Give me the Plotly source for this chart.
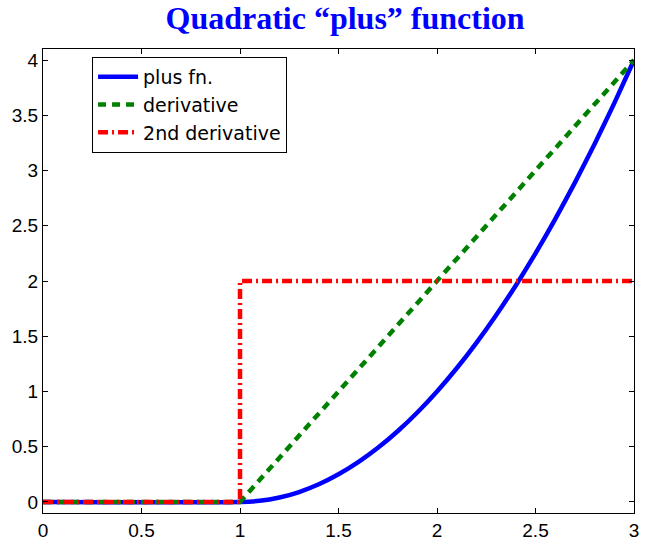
import plotly.graph_objects as go

# plus function samples
x_plus = [0, 1.0, 1.1, 1.2, 1.3, 1.4, 1.5, 1.6, 1.7, 1.8, 1.9, 2.0,
          2.1, 2.2, 2.3, 2.4, 2.5, 2.6, 2.7, 2.8, 2.9, 3.0]
y_plus = [0, 0.0, 0.01, 0.04, 0.09, 0.16, 0.25, 0.36, 0.49, 0.64, 0.81, 1.0,
          1.21, 1.44, 1.69, 1.96, 2.25, 2.56, 2.89, 3.24, 3.61, 4.0]

# derivative
x_deriv = [0, 1, 3]
y_deriv = [0, 0, 4]

# second derivative
x_deriv2 = [0, 1, 1, 3]
y_deriv2 = [0, 0, 2, 2]

series_names = ["plus fn.", "derivative", "2nd derivative"]
x_ticks = [0, 0.5, 1, 1.5, 2, 2.5, 3]
x_tick_labels = ["0", "0.5", "1", "1.5", "2", "2.5", "3"]
y_ticks = [0, 0.5, 1, 1.5, 2, 2.5, 3, 3.5, 4]
y_tick_labels = ["0", "0.5", "1", "1.5", "2", "2.5", "3", "3.5", "4"]

fig = go.Figure()
fig.add_trace(go.Scatter(x=x_plus, y=y_plus, mode="lines", name=series_names[0],
                         line=dict(color="#0000ff", width=4.5, shape="spline", smoothing=0.6)))
fig.add_trace(go.Scatter(x=x_deriv, y=y_deriv, mode="lines", name=series_names[1],
                         line=dict(color="#008000", width=4.5, dash="8px,6px")))
fig.add_trace(go.Scatter(x=x_deriv2, y=y_deriv2, mode="lines", name=series_names[2],
                         line=dict(color="#ff0000", width=4.5, dash="10px,4px,2px,4px")))

axis_common = dict(showgrid=False, zeroline=False, showline=True, mirror="ticks",
                   linecolor="black", linewidth=1, ticks="inside", ticklen=5,
                   tickcolor="black", automargin=False,
                   tickfont=dict(family="Liberation Sans, Arial, sans-serif", size=19, color="black"))

fig.update_layout(
    width=645, height=548,
    paper_bgcolor="white", plot_bgcolor="white",
    margin=dict(l=43, r=11, t=49, b=35),
    title=dict(text="<b>Quadratic “plus” function</b>", x=0.535, xanchor="center",
               y=0.967, yanchor="middle",
               font=dict(family="Liberation Serif, DejaVu Serif, serif", size=32, color="#0000ff")),
    xaxis=dict(range=[0, 3], tickvals=x_ticks, ticktext=x_tick_labels, **axis_common),
    yaxis=dict(range=[-0.1, 4.1], tickvals=y_ticks, ticktext=y_tick_labels, **axis_common),
    legend=dict(x=0.083, y=0.983, xanchor="left", yanchor="top",
                bordercolor="black", borderwidth=1, bgcolor="white",
                font=dict(family="DejaVu Sans, sans-serif", size=19, color="black"),
                tracegroupgap=0, itemwidth=40),
    showlegend=True,
)

fig.write_html("out.html", config={"displayModeBar": False},
               post_script="document.body.style.margin='0px';")
